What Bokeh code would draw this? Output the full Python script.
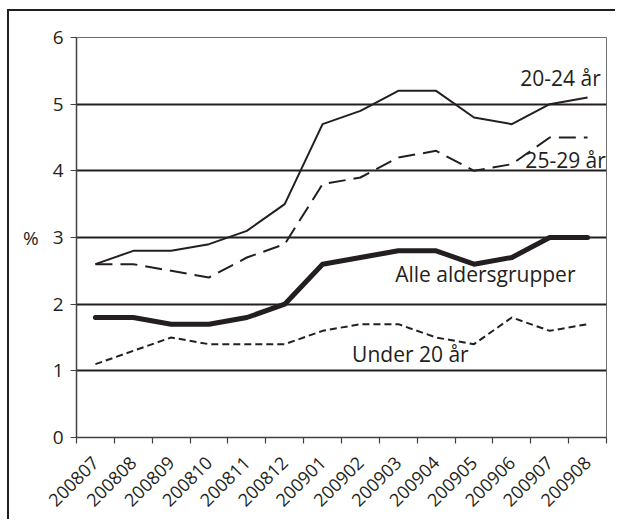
import numpy as np
from math import pi
from bokeh.plotting import figure
from bokeh.models import FixedTicker, Range1d
from bokeh.core.properties import value
from bokeh.embed import file_html
from bokeh.resources import INLINE

months = ["200807", "200808", "200809", "200810", "200811", "200812", "200901",
          "200902", "200903", "200904", "200905", "200906", "200907", "200908"]
age_20_24 = [2.6, 2.8, 2.8, 2.9, 3.1, 3.5, 4.7, 4.9, 5.2, 5.2, 4.8, 4.7, 5.0, 5.1]
age_25_29 = [2.6, 2.6, 2.5, 2.4, 2.7, 2.9, 3.8, 3.9, 4.2, 4.3, 4.0, 4.1, 4.5, 4.5]
all_ages = [1.8, 1.8, 1.7, 1.7, 1.8, 2.0, 2.6, 2.7, 2.8, 2.8, 2.6, 2.7, 3.0, 3.0]
under_20 = [1.1, 1.3, 1.5, 1.4, 1.4, 1.4, 1.6, 1.7, 1.7, 1.5, 1.4, 1.8, 1.6, 1.7]
y_ticks = [0, 1, 2, 3, 4, 5, 6]
grid_ticks = [1, 2, 3, 4, 5]

label_texts = ["20-24 år", "25-29 år", "Alle aldersgrupper", "Under 20 år"]
label_x = [12.785, 12.92, 10.8, 8.82]
label_y = [5.39, 4.17, 2.46, 1.25]

FONT = "Open Sans"
INK = "#231f20"

n = len(months)
xc = np.arange(n) + 0.5

p = figure(width=608, height=510, output_backend="svg", toolbar_location=None,
           x_range=Range1d(0, n), y_range=Range1d(0, 6),
           min_border_left=67, min_border_top=26, min_border_right=11,
           min_border_bottom=84)
p.styles = {"margin-top": "9px", "margin-left": "7px",
            "border-top": f"2px solid {INK}", "border-left": f"2px solid {INK}"}
p.background_fill_color = "white"
p.outline_line_color = "#6d6e71"
p.outline_line_width = 1

# grid
p.xgrid.visible = False
p.ygrid.ticker = FixedTicker(ticks=grid_ticks)
p.ygrid.grid_line_color = INK
p.ygrid.grid_line_width = 2

# y axis
p.yaxis.ticker = FixedTicker(ticks=y_ticks)
p.yaxis.axis_line_color = "#414042"
p.yaxis.axis_line_width = 1.5
p.yaxis.major_tick_in = 0
p.yaxis.major_tick_out = 6
p.yaxis.major_tick_line_width = 1.2
p.yaxis.minor_tick_line_color = None
p.yaxis.major_tick_line_color = "#414042"
p.yaxis.major_label_text_font = FONT
p.yaxis.major_label_text_font_size = "19px"
p.yaxis.major_label_text_color = INK
p.yaxis.major_label_standoff = 7
p.yaxis.axis_label = "%"
p.yaxis.axis_label_orientation = "horizontal"
p.yaxis.axis_label_text_font = FONT
p.yaxis.axis_label_text_font_size = "19px"
p.yaxis.axis_label_text_font_style = "normal"
p.yaxis.axis_label_text_color = INK
p.yaxis.axis_label_standoff = 11

# x axis: labels at category centres, ticks at boundaries
p.xaxis.ticker = FixedTicker(ticks=list(xc), minor_ticks=list(np.arange(n + 1)))
p.xaxis.major_label_overrides = {float(x): m for x, m in zip(xc, months)}
p.xaxis.major_tick_in = 0
p.xaxis.major_tick_out = 0
p.xaxis.minor_tick_in = 0
p.xaxis.minor_tick_out = 6
p.xaxis.minor_tick_line_color = "#414042"
p.xaxis.minor_tick_line_width = 1.2
p.xaxis.axis_line_color = "#414042"
p.xaxis.axis_line_width = 1.5
p.xaxis.major_label_orientation = pi / 4
p.xaxis.major_label_text_font = FONT
p.xaxis.major_label_text_font_size = "18px"
p.xaxis.major_label_text_color = INK
p.xaxis.major_label_standoff = 16

# series
p.line(xc, age_20_24, line_color=INK, line_width=2)
p.line(xc, age_25_29, line_color=INK, line_width=2, line_dash="17 8")
p.line(xc, all_ages, line_color=INK, line_width=5, line_join="round", line_cap="round")
p.line(xc, under_20, line_color=INK, line_width=2, line_dash="7 4")

p.text(x=label_x, y=label_y, text=label_texts, text_font=value(FONT),
       text_font_size="21px", text_color=INK, text_align="center",
       text_baseline="middle")

open("out.html", "w").write(file_html(p, INLINE))
